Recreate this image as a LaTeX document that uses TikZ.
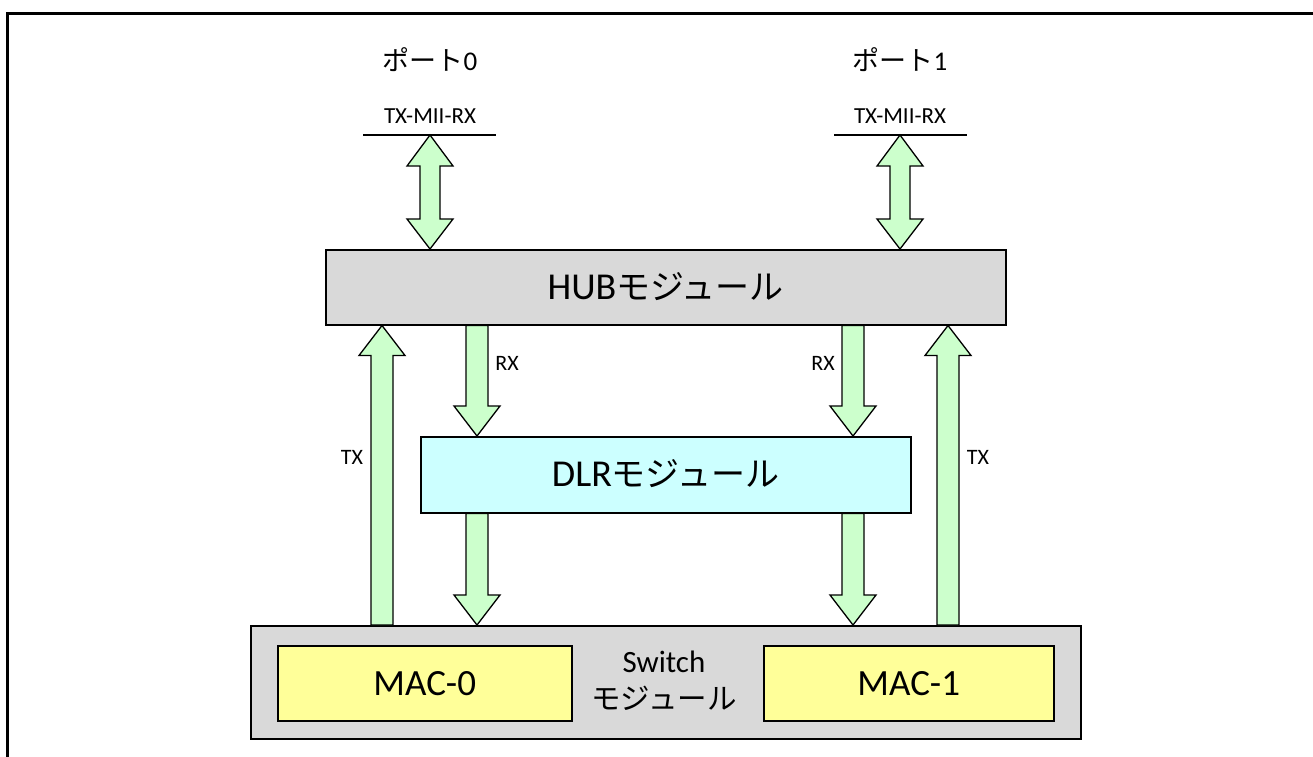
\documentclass[tikz,border=0pt]{standalone}
\usepackage{fontspec}
\setmainfont{Carlito}
\newfontfamily\jp{Noto Sans CJK JP}
\usetikzlibrary{calc}
\definecolor{hubgray}{HTML}{D9D9D9}
\definecolor{dlrcyan}{HTML}{CCFFFF}
\definecolor{macyellow}{HTML}{FFFF99}
\definecolor{arrowgreen}{HTML}{CCFFCC}
\tikzset{
  box/.style={draw=black, line width=1.5pt, inner sep=0pt, anchor=north west},
  blockarrow/.style={draw=black, fill=arrowgreen, line width=1.3pt, line join=miter},
  lbl/.style={inner sep=0pt},
  small/.style={lbl, font=\fontsize{22}{24}\selectfont},
}
\newcommand\blockup[2]{% #1 tail (bottom), #2 tip (top)
  \draw[blockarrow] ($(#1)+(-11,0)$) -- ($(#2)+(-11,30)$) -- ($(#2)+(-23,30)$) -- (#2)
    -- ($(#2)+(23,30)$) -- ($(#2)+(11,30)$) -- ($(#1)+(11,0)$) -- cycle;}
\newcommand\blockdown[2]{% #1 tail (top), #2 tip (bottom)
  \draw[blockarrow] ($(#1)+(-11,0)$) -- ($(#2)+(-11,-30)$) -- ($(#2)+(-23,-30)$) -- (#2)
    -- ($(#2)+(23,-30)$) -- ($(#2)+(11,-30)$) -- ($(#1)+(11,0)$) -- cycle;}
\newcommand\blockboth[2]{% #1 top tip, #2 bottom tip
  \draw[blockarrow] (#1) -- ($(#1)+(23,31)$) -- ($(#1)+(10,31)$) -- ($(#2)+(10,-30)$)
    -- ($(#2)+(23,-30)$) -- (#2) -- ($(#2)+(-23,-30)$) -- ($(#2)+(-10,-30)$)
    -- ($(#1)+(-10,31)$) -- ($(#1)+(-23,31)$) -- cycle;}
\begin{document}
\begin{tikzpicture}[x=1pt,y=-1pt]
\useasboundingbox (0,0) rectangle (1313,756);
\fill[white] (0,0) rectangle (1313,756);
% frame
\draw[line width=3pt] (7.5,760) -- (7.5,13.5) -- (1320,13.5);

% boxes
\node[box, fill=hubgray, minimum width=680pt, minimum height=75pt] (hub) at (325,249) {};
\node[lbl, font=\fontsize{38}{40}\selectfont] (hubt) at ($(hub.center)+(0,-1)$) {HUB{\jp\fontsize{34}{36}\selectfont モジュール}};
\node[box, fill=dlrcyan, minimum width=490pt, minimum height=76pt] (dlr) at (420,436) {};
\node[lbl, font=\fontsize{38}{40}\selectfont] (dlrt) at ($(dlr.center)+(0,-1)$) {DLR{\jp\fontsize{34}{36}\selectfont モジュール}};
\node[box, fill=hubgray, minimum width=830pt, minimum height=113pt] (sw) at (250,625) {};
\node[box, fill=macyellow, minimum width=294pt, minimum height=75pt] (mac0) at (277,645) {};
\node[lbl, font=\fontsize{37}{39}\selectfont] at (mac0.center) {MAC-0};
\node[box, fill=macyellow, minimum width=290pt, minimum height=75pt] (mac1) at (763,645) {};
\node[lbl, font=\fontsize{37}{39}\selectfont] at (mac1.center) {MAC-1};
\node[lbl, font=\fontsize{31}{33}\selectfont] (swt1) at (664,662) {Switch};
\node[lbl, font=\jp\fontsize{29.5}{31}\selectfont] (swt2) at (664,698) {モジュール};

% ports
\node[lbl, font=\fontsize{27}{30}\selectfont] (port0) at (430,60) {{\jp ポート}0};
\node[lbl, font=\fontsize{27}{30}\selectfont] (port1) at (900,60) {{\jp ポート}1};
\node[lbl, font=\fontsize{23}{25}\selectfont] (mii0) at (430,116) {TX-MII-RX};
\node[lbl, font=\fontsize{23}{25}\selectfont] (mii1) at (900,116) {TX-MII-RX};
\coordinate (p0) at (430,135);
\coordinate (p1) at (900,135);
\draw[line width=2pt] ($(p0)+(-67,0)$) -- ($(p0)+(66,0)$);
\draw[line width=2pt] ($(p1)+(-66,0)$) -- ($(p1)+(67,0)$);

% double arrows ports <-> HUB
\blockboth{p0}{p0 |- hub.north}
\blockboth{p1}{p1 |- hub.north}

% TX arrows switch -> HUB
\coordinate (tx0) at (382,0);
\coordinate (tx1) at (948,0);
\blockup{tx0 |- sw.north}{tx0 |- hub.south}
\blockup{tx1 |- sw.north}{tx1 |- hub.south}
\node[small] (txl0) at (352,457) {TX};
\node[small] (txl1) at (978,457) {TX};

% RX arrows HUB -> DLR
\coordinate (rx0) at (477,0);
\coordinate (rx1) at (853,0);
\blockdown{rx0 |- hub.south}{rx0 |- dlr.north}
\blockdown{rx1 |- hub.south}{rx1 |- dlr.north}
\node[small] (rxl0) at (507,363) {RX};
\node[small] (rxl1) at (823,363) {RX};

% DLR -> switch
\blockdown{rx0 |- dlr.south}{rx0 |- sw.north}
\blockdown{rx1 |- dlr.south}{rx1 |- sw.north}
\end{tikzpicture}
\end{document}
